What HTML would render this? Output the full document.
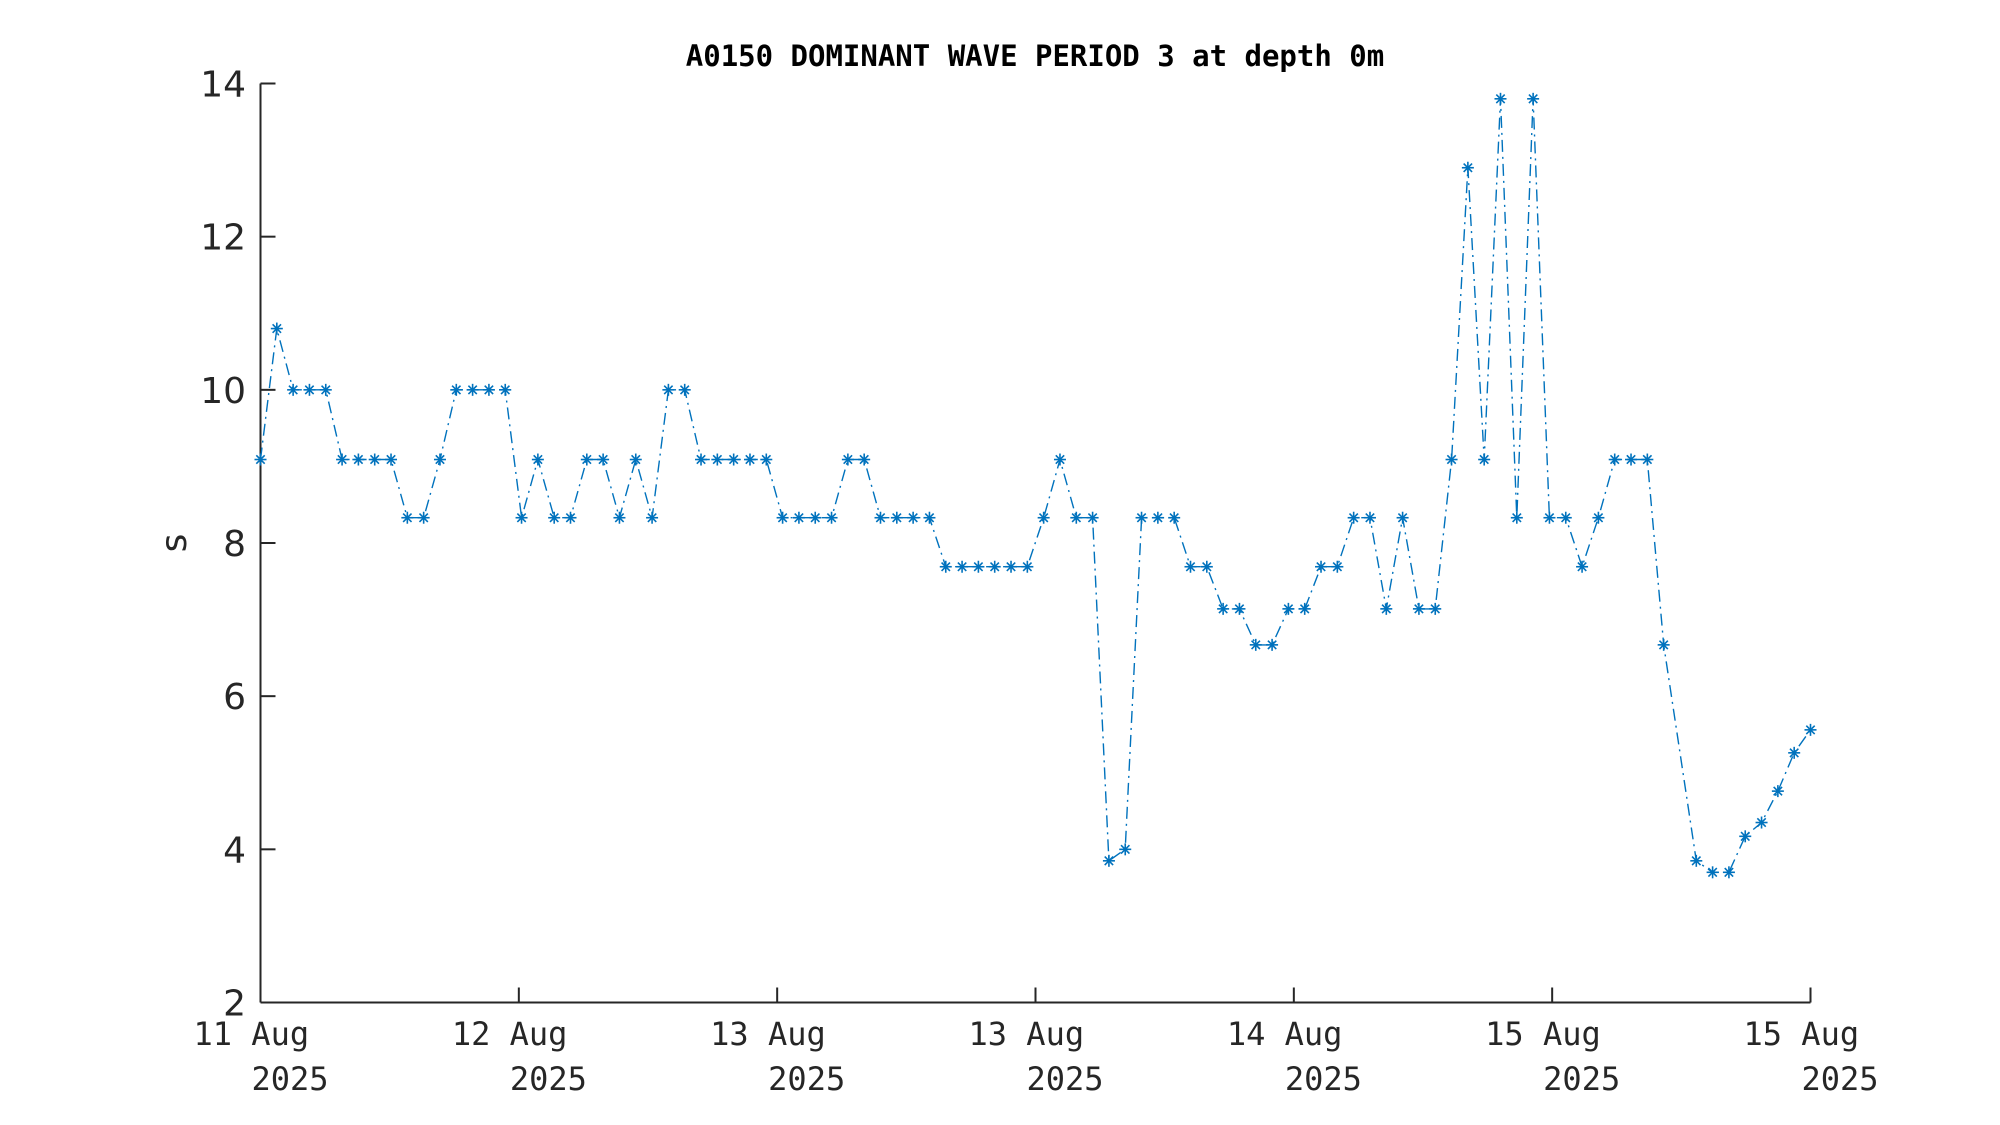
<!DOCTYPE html>
<html><head><meta charset="utf-8"><style>
html,body{margin:0;padding:0;background:#fff;}
svg{display:block;}
</style></head><body>
<svg id="chart" width="2000" height="1125" viewBox="0 0 2000 1125" xmlns="http://www.w3.org/2000/svg">
<rect width="2000" height="1125" fill="#fff"/>
<text x="1035" y="66" text-anchor="middle" font-family="'DejaVu Sans Mono','Liberation Mono',monospace" font-weight="bold" font-size="29" fill="#000">A0150 DOMINANT WAVE PERIOD 3 at depth 0m</text>
<text transform="translate(186,543) rotate(-90)" text-anchor="middle" font-family="'DejaVu Sans','Liberation Sans',sans-serif" font-size="36" fill="#262626">s</text>
<g id="axes"></g>
<g id="series"></g>
</svg>
<script>
const hours = [0,1,2,3,4,5,6,7,8,9,10,11,12,13,14,15,16,17,18,19,20,21,22,23,24,25,26,27,28,29,30,31,32,33,34,35,36,37,38,39,40,41,42,43,44,45,46,47,48,49,50,51,52,53,54,55,56,57,58,59,60,61,62,63,64,65,66,67,68,69,70,71,72,73,74,75,76,77,78,79,80,81,82,83,84,85,86,88,89,90,91,92,93,94,95];
const periods = [9.09,10.8,10,10,10,9.09,9.09,9.09,9.09,8.33,8.33,9.09,10,10,10,10,8.33,9.09,8.33,8.33,9.09,9.09,8.33,9.09,8.33,10,10,9.09,9.09,9.09,9.09,9.09,8.33,8.33,8.33,8.33,9.09,9.09,8.33,8.33,8.33,8.33,7.69,7.69,7.69,7.69,7.69,7.69,8.33,9.09,8.33,8.33,3.85,4.0,8.33,8.33,8.33,7.69,7.69,7.14,7.14,6.67,6.67,7.14,7.14,7.69,7.69,8.33,8.33,7.14,8.33,7.14,7.14,9.09,12.9,9.09,13.8,8.33,13.8,8.33,8.33,7.69,8.33,9.09,9.09,9.09,6.67,3.85,3.7,3.7,4.17,4.35,4.76,5.26,5.56];
const yTicks = [2,4,6,8,10,12,14];
const xTickLabels = ["11 Aug","12 Aug","13 Aug","13 Aug","14 Aug","15 Aug","15 Aug"];
const xTickYear = ["2025","2025","2025","2025","2025","2025","2025"];
const xMax = 95;

const L=260.5,R=1810.5,T=83.5,B=1002.5;
const xs=h=>L+(h/xMax)*(R-L);
const ys=v=>B-(v-2)/(14-2)*(B-T);
const NS="http://www.w3.org/2000/svg";
const mk=(t,a,p)=>{const e=document.createElementNS(NS,t);for(const k in a)e.setAttribute(k,a[k]);p.appendChild(e);return e;};
const ax=document.getElementById('axes');
const yl=mk('line',{x1:L,y1:T,x2:L,y2:B,stroke:'#262626','stroke-width':2},ax);


const xl=mk('line',{x1:L,y1:B,x2:R,y2:B,stroke:'#262626','stroke-width':2},ax);


yTicks.forEach(v=>{
  const y=ys(v);
  const tk=mk('line',{x1:L,y1:y,x2:L+15,y2:y,stroke:'#262626','stroke-width':2},ax);
  
  
  const t=mk('text',{x:246,y:y+13,'text-anchor':'end','font-family':"'DejaVu Sans','Liberation Sans',sans-serif",'font-size':36,fill:'#262626'},ax);
  t.textContent=v;
  
  
});
xTickLabels.forEach((lab,i)=>{
  const x=xs(xMax*i/(xTickLabels.length-1));
  const tk=mk('line',{x1:x,y1:B,x2:x,y2:B-15,stroke:'#262626','stroke-width':2},ax);
  
  
  const t=mk('text',{x:x-67,y:1045,'font-family':"'DejaVu Sans Mono','Liberation Mono',monospace",'font-size':32,fill:'#262626'},ax);
  t.textContent=lab;
  
  
  const t2=mk('text',{x:x-9,y:1090,'font-family':"'DejaVu Sans Mono','Liberation Mono',monospace",'font-size':32,fill:'#262626'},ax);
  t2.textContent=xTickYear[i];
  
  
});
const sg=document.getElementById('series');
const pts=hours.map((h,i)=>xs(h).toFixed(1)+','+ys(periods[i]).toFixed(1)).join(' ');
const pl=mk('polyline',{points:pts,fill:'none',stroke:'#0072BD','stroke-width':1.4,'stroke-dasharray':'12 5 2 5'},sg);


hours.forEach((h,i)=>{
  const x=xs(h),y=ys(periods[i]),r=6;
  const g=mk('g',{stroke:'#0072BD','stroke-width':1.6},sg);
  
  
  mk('line',{x1:x-r,y1:y,x2:x+r,y2:y},g);
  mk('line',{x1:x,y1:y-r,x2:x,y2:y+r},g);
  mk('line',{x1:x-r*0.7,y1:y-r*0.7,x2:x+r*0.7,y2:y+r*0.7},g);
  mk('line',{x1:x-r*0.7,y1:y+r*0.7,x2:x+r*0.7,y2:y-r*0.7},g);
});
</script>
</body></html>
